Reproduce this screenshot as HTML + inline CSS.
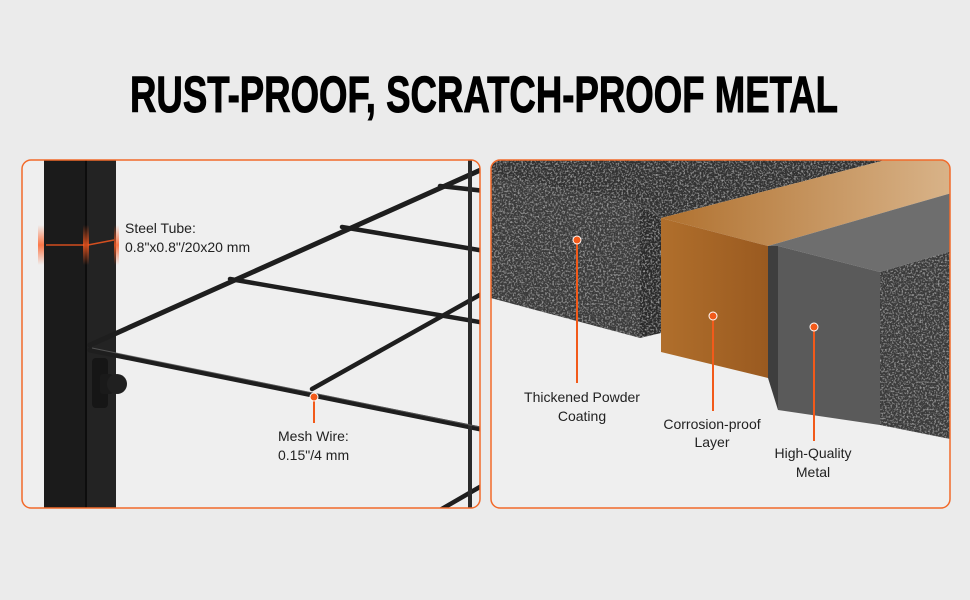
<!DOCTYPE html>
<html><head><meta charset="utf-8"><style>
html,body{margin:0;padding:0;background:#ebebeb;}
svg{display:block;}
text{font-family:"Liberation Sans",sans-serif;}
</style></head><body>
<svg width="970" height="600" viewBox="0 0 970 600" xmlns="http://www.w3.org/2000/svg">
<defs>
<filter id="tex" x="0" y="0" width="100%" height="100%">
<feTurbulence type="fractalNoise" baseFrequency="0.55" numOctaves="2" seed="3" result="n"/>
<feColorMatrix in="n" type="matrix" values="0 0 0 0 0.62  0 0 0 0 0.62  0 0 0 0 0.62  0 0 0 1.6 -0.78" result="s"/>
<feComposite in="s" in2="SourceGraphic" operator="in" result="sp"/>
<feMerge><feMergeNode in="SourceGraphic"/><feMergeNode in="sp"/></feMerge>
</filter>
<linearGradient id="cuTop" x1="0" y1="0" x2="1" y2="0"><stop offset="0" stop-color="#b0712f"/><stop offset="1" stop-color="#d9b48a"/></linearGradient>
<linearGradient id="cuFront" x1="0" y1="0" x2="1" y2="0"><stop offset="0" stop-color="#b06f2c"/><stop offset="1" stop-color="#9a5a20"/></linearGradient>
<linearGradient id="glow" x1="0" y1="0" x2="0" y2="1"><stop offset="0" stop-color="#ff5a1f" stop-opacity="0"/><stop offset="0.5" stop-color="#ff5a1f" stop-opacity="0.8"/><stop offset="1" stop-color="#ff5a1f" stop-opacity="0"/></linearGradient>
<clipPath id="cl"><rect x="22" y="160" width="458" height="348" rx="9"/></clipPath>
<clipPath id="cr"><rect x="491" y="160" width="459" height="348" rx="9"/></clipPath>
</defs>
<rect width="970" height="600" fill="#ebebeb"/>
<text x="130" y="112" font-size="51" font-weight="bold" textLength="708" lengthAdjust="spacingAndGlyphs" fill="#000" stroke="#000" stroke-width="1">RUST-PROOF, SCRATCH-PROOF METAL</text>

<rect x="22" y="160" width="458" height="348" rx="9" fill="#efefef"/>
<g clip-path="url(#cl)">
<rect x="44" y="155" width="42" height="360" fill="#1b1b1b"/>
<rect x="86" y="155" width="30" height="360" fill="#232323"/>
<rect x="85" y="155" width="2" height="360" fill="#0d0d0d"/>
<rect x="38" y="225" width="6" height="40" fill="url(#glow)"/>
<rect x="83" y="225" width="6" height="40" fill="url(#glow)"/>
<rect x="114" y="225" width="5" height="40" fill="url(#glow)"/>
<path d="M46 245 L84 245 M88 245 L114 240" stroke="#ff5a1f" stroke-width="1.5" opacity="0.8"/>
<g stroke="#1e1e1e" stroke-linecap="round" fill="none">
<path d="M90 345 L485 168" stroke-width="5"/>
<path d="M90 350 L485 430" stroke-width="5"/>
<path d="M230 279 L485 323" stroke-width="4.5"/>
<path d="M342 227 L485 251" stroke-width="4.5"/>
<path d="M440 186 L485 191" stroke-width="4.5"/>
<path d="M312 389 L485 292" stroke-width="4.5"/>
<path d="M440 510 L485 484" stroke-width="4.5"/>
<path d="M470 160 L470 510" stroke-width="4" stroke="#2a2a2a"/>
</g>
<path d="M92 348 L480 427" stroke="#777" stroke-width="1" opacity="0.6"/>
<rect x="92" y="358" width="16" height="50" rx="4" fill="#161616"/>
<rect x="100" y="374" width="13" height="20" rx="3" fill="#1a1a1a"/>
<ellipse cx="117" cy="384" rx="10" ry="10" fill="#202020"/>
</g>
<rect x="22" y="160" width="458" height="348" rx="9" fill="none" stroke="#f26a2a" stroke-width="1.5"/>
<text x="125" y="233" font-size="14" fill="#222">Steel Tube:</text>
<text x="125" y="252" font-size="14" fill="#222">0.8"x0.8"/20x20 mm</text>
<line x1="314" y1="397" x2="314" y2="423" stroke="#f25a1a" stroke-width="2"/>
<circle cx="314" cy="397" r="4" fill="#f25a1a" stroke="#fff" stroke-width="1"/>
<text x="278" y="441" font-size="14" fill="#222">Mesh Wire:</text>
<text x="278" y="460" font-size="14" fill="#222">0.15"/4 mm</text>

<rect x="491" y="160" width="459" height="348" rx="9" fill="#efefef"/>
<g clip-path="url(#cr)">
<g filter="url(#tex)">
<polygon points="491,155 905,155 661,218 640,205 491,175" fill="#333"/>
<polygon points="491,175 640,205 640,338 491,298" fill="#3a3a3a"/>
<polygon points="640,205 661,218 661,333 640,338" fill="#2a2a2a"/>
<polygon points="880,272 955,250 955,440 880,425" fill="#3a3a3a"/>
</g>
<polygon points="661,218 905,155 955,155 955,192 768,246" fill="url(#cuTop)"/>
<polygon points="661,218 768,246 768,378 661,352" fill="url(#cuFront)"/>
<polygon points="768,246 955,192 955,250 880,272 778,246" fill="#6e6e6e"/>
<polygon points="778,246 880,272 880,425 778,410" fill="#5a5a5a"/>
<polygon points="768,246 778,246 778,410 768,378" fill="#3e3e3e"/>
</g>
<rect x="491" y="160" width="459" height="348" rx="9" fill="none" stroke="#f26a2a" stroke-width="1.5"/>
<g stroke="#f25a1a" stroke-width="2">
<line x1="577" y1="240" x2="577" y2="383"/>
<line x1="713" y1="316" x2="713" y2="411"/>
<line x1="814" y1="327" x2="814" y2="441"/>
</g>
<g fill="#f25a1a" stroke="#fff" stroke-width="1">
<circle cx="577" cy="240" r="4"/><circle cx="713" cy="316" r="4"/><circle cx="814" cy="327" r="4"/>
</g>
<g font-size="14" fill="#222" text-anchor="middle">
<text x="582" y="402">Thickened Powder</text>
<text x="582" y="421">Coating</text>
<text x="712" y="429">Corrosion-proof</text>
<text x="712" y="447">Layer</text>
<text x="813" y="458">High-Quality</text>
<text x="813" y="477">Metal</text>
</g>
</svg>
</body></html>
